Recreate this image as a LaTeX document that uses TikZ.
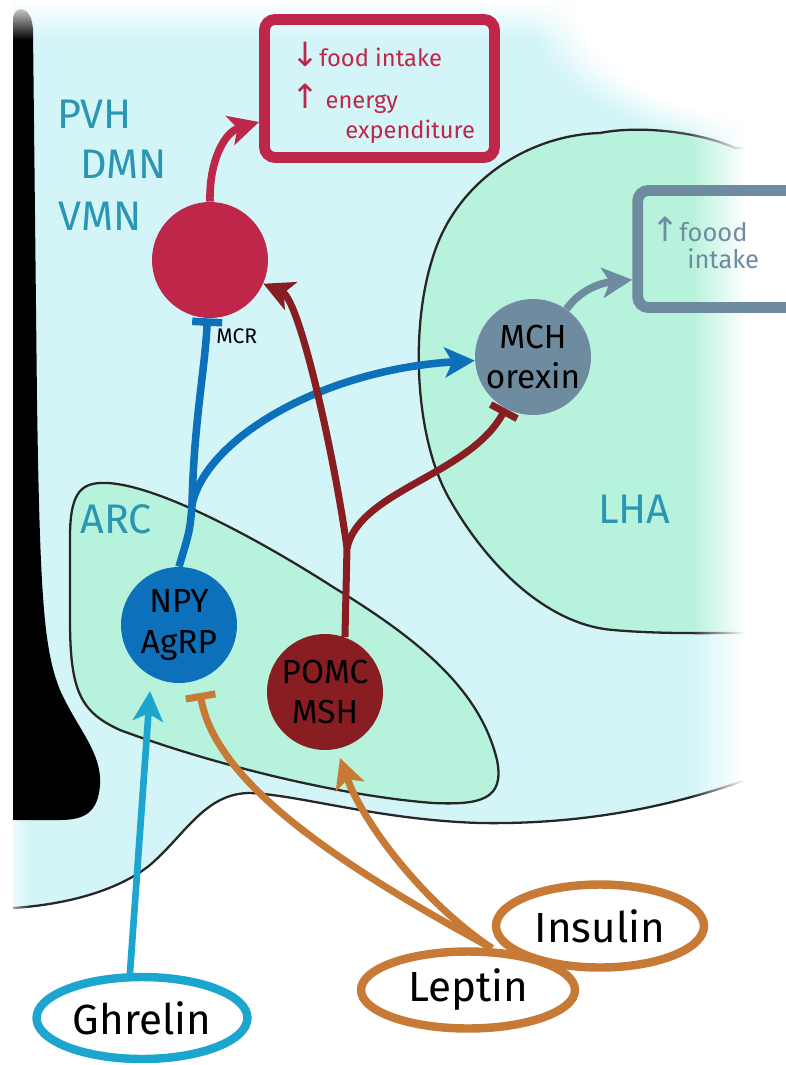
\documentclass[tikz,border=0pt]{standalone}
\usepackage{fontspec}
\setmainfont{Fira Sans}
\newfontfamily\flechas{DejaVu Sans}
\usetikzlibrary{arrows.meta,shapes.geometric,calc,fadings}
\definecolor{fondocian}{RGB}{211,245,248}
\definecolor{menta}{RGB}{182,242,220}
\definecolor{carmin}{RGB}{190,38,74}
\definecolor{granate}{RGB}{137,30,34}
\definecolor{azulnpy}{RGB}{12,112,186}
\definecolor{celeste}{RGB}{27,165,207}
\definecolor{naranja}{RGB}{199,121,54}
\definecolor{grisazul}{RGB}{110,139,160}
\definecolor{turquesa}{RGB}{42,150,180}

\begin{document}
\begin{tikzpicture}[x=0.02cm, y=-0.02cm,
  neurona/.style={circle, inner sep=0pt, minimum size=2.32cm, align=center,
                  font=\fontsize{19}{23}\selectfont},
  efecto/.style={draw, line width=6.2pt, rounded corners=6pt, inner sep=0pt},
  efectotxt/.style={anchor=base west, inner sep=0pt, font=\fontsize{13.5}{16}\selectfont},
  hormona/.style={ellipse, draw, fill=white, line width=4.8pt, inner sep=0pt,
                  font=\fontsize{24}{26}\selectfont},
  region/.style={fill=menta, draw=black!85, line width=1.3pt},
  nucleo/.style={anchor=base west, inner sep=0pt, text=turquesa, font=\fontsize{23.5}{26}\selectfont},
  activa/.style={line width=4.3pt, -{Stealth[length=6mm, width=6mm, inset=1.5mm]}},
  inhibe/.style={line width=4.3pt, -{Bar[width=6mm]}}]
  \useasboundingbox (0,0) rectangle (785,1065);
  \fill[fondocian] (13,0) -- (785,0) -- (785,765) .. controls (700,800) and (600,825) .. (480,823)
    .. controls (380,820) and (300,795) .. (250,793) .. controls (205,793) and (185,835) .. (150,865)
    .. controls (115,893) and (60,905) .. (13,908) -- cycle;
  \draw[black!85, line width=1.3pt] (785,765) .. controls (700,800) and (600,825) .. (480,823)
    .. controls (380,820) and (300,795) .. (250,793) .. controls (205,793) and (185,835) .. (150,865)
    .. controls (115,893) and (60,905) .. (13,908);
  \draw[region] (820,150) -- (735,148) .. controls (700,132) and (640,125) .. (600,133)
    .. controls (530,135) and (455,180) .. (432,260) .. controls (410,330) and (415,440) .. (450,500)
    .. controls (490,570) and (550,625) .. (613,630) .. controls (660,634) and (700,633) .. (745,633)
    -- (820,633) -- cycle;
  \draw[region] (100,483) .. controls (150,480) and (260,540) .. (333,587)
    .. controls (420,640) and (480,690) .. (497,760) .. controls (505,800) and (480,805) .. (433,803)
    .. controls (330,795) and (200,760) .. (120,730) .. controls (80,712) and (70,690) .. (70,620)
    -- (70,537) .. controls (70,495) and (80,484) .. (100,483) -- cycle;
  \fill[black] (13,820) -- (13,20) .. controls (13,4) and (32,4) .. (33,30) -- (37,400)
    .. controls (40,600) and (44,650) .. (60,690) .. controls (78,730) and (102,752) .. (100,785)
    .. controls (98,812) and (85,820) .. (60,820) -- cycle;
  \fill[white, path fading=west] (690,0) rectangle (745,1065);
  \fill[white] (745,0) rectangle (790,1065);
  \fill[white, path fading=south] (0,0) rectangle (785,40);
  \fill[white, path fading=circle with fuzzy edge 20 percent] (785,0) ellipse [x radius=260, y radius=150];
  \fill[white, path fading=east] (0,820) rectangle (30,910);

  \node[nucleo] (pvhtxt) at (57,128) {PVH};
  \node[nucleo] (dmntxt) at (80,178) {DMN};
  \node[nucleo] (vmntxt) at (58,230) {VMN};
  \node[nucleo] (lhatxt) at (598,523) {LHA};
  \node[nucleo] (arctxt) at (80,533) {ARC};

  \node[efecto, draw=carmin, minimum width=4.6cm, minimum height=2.76cm] (aumento) at (379.5,88.5) {};
  \node[efectotxt, text=carmin] (menosingesta) at (291,66) {{\flechas\fontsize{19}{19}\selectfont ↓}food intake};
  \node[efectotxt, text=carmin] (masenergia) at (291,108) {{\flechas\fontsize{19}{19}\selectfont ↑} energy};
  \node[efectotxt, text=carmin] (gasto) at (345,138) {expenditure};
  \node[efecto, draw=grisazul, minimum width=3.25cm, minimum height=2.34cm] (hambre) at (719,249) {};
  \node[efectotxt, text=grisazul, font=\fontsize{14.5}{16}\selectfont] (masingesta) at (651,241) {{\flechas\fontsize{19}{19}\selectfont ↑}foood};
  \node[efectotxt, text=grisazul, font=\fontsize{14.5}{16}\selectfont] (ingesta) at (687,268) {intake};

  \node[neurona, fill=carmin] (pvh) at (210,260) {};
  \node[neurona, fill=azulnpy] (npy) at (179,625) {NPY\\AgRP};
  \node[neurona, fill=granate] (pomc) at (325,692) {POMC\\MSH};
  \node[neurona, fill=grisazul] (mch) at (533,357) {MCH\\orexin};
  \node[anchor=base west, inner sep=0pt, font=\fontsize{12}{14}\selectfont] (mcr) at (216,343) {MCR};

  \node[hormona, draw=celeste, minimum width=4.22cm, minimum height=1.64cm] (ghrelin) at (142,1018) {Ghrelin};
  \node[hormona, draw=naranja, minimum width=4.16cm, minimum height=1.66cm] (insulin) at (600,926) {Insulin};
  \node[hormona, draw=naranja, minimum width=4.28cm, minimum height=1.54cm] (leptin) at (468,990) {Leptin};

  \coordinate (bifnpy) at (192,505);
  \coordinate (bifpomc) at (347,548);
  \draw[activa, carmin] (pvh.north) .. controls (209,160) and (225,132) .. ($(aumento.south west)!.275!(aumento.north west)$);
  \draw[inhibe, azulnpy] (npy.north) .. controls (190,530) .. (bifnpy) .. controls (194,420) and (205,370) .. (pvh);
  \draw[activa, azulnpy] (bifnpy) .. controls (205,440) and (320,370) .. (mch);
  \draw[activa, granate, line width=4pt] (pomc.70) -- (bifpomc) .. controls (335,460) and (300,300) .. (pvh);
  \draw[inhibe, granate, line width=4pt] (bifpomc) .. controls (360,490) and (470,475) .. (mch);
  \draw[activa, grisazul] (mch.55) .. controls (580,290) and (600,283) .. ($(hambre.south west)!.26!(hambre.north west)$);
  \draw[activa, celeste, line width=3.8pt] (ghrelin.105) -- ($(npy)+(-29,66)$);
  \draw[activa, naranja, line width=4pt] (leptin.60) .. controls (420,900) and (362,820) .. ($(pomc)+(15,66)$);
  \draw[inhibe, naranja, line width=4pt] (leptin.60) .. controls (330,860) and (215,780) .. ($(npy)+(21,68)$);
\end{tikzpicture}
\end{document}
